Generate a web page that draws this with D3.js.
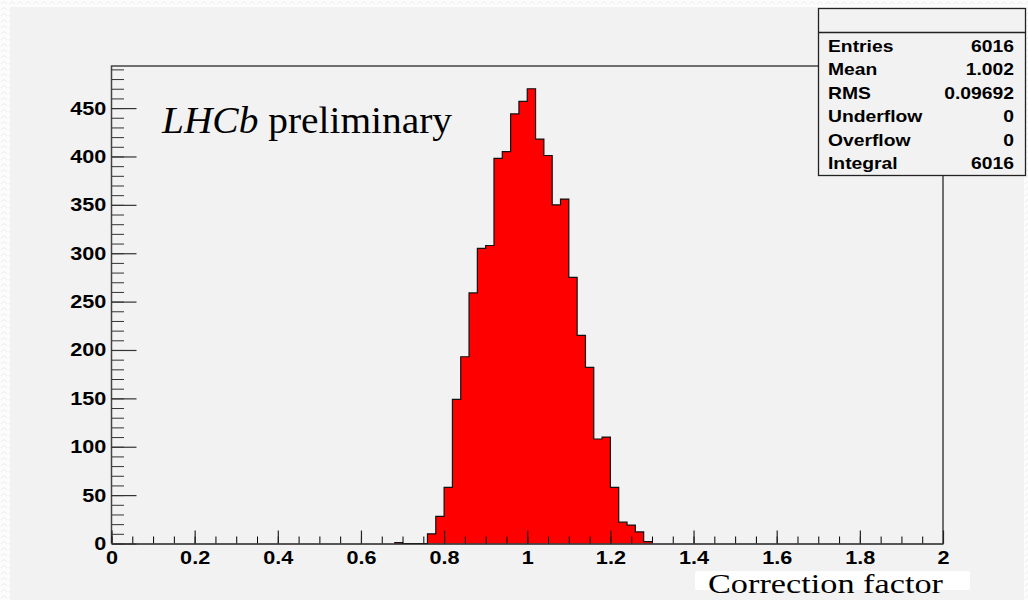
<!DOCTYPE html>
<html>
<head>
<meta charset="utf-8">
<script src="https://cdn.jsdelivr.net/npm/d3@7"></script>
<style>
  html, body { margin: 0; padding: 0; background: #fff; }
  svg { display: block; }
</style>
</head>
<body>
<div id="chart"></div>
<script>
// histogram of the correction factor, bin width 0.02 on [0, 2]
const binLow = [0.68, 0.70, 0.72, 0.74, 0.76, 0.78, 0.80, 0.82, 0.84, 0.86, 0.88, 0.90, 0.92, 0.94, 0.96,
                0.98, 1.00, 1.02, 1.04, 1.06, 1.08, 1.10, 1.12, 1.14, 1.16, 1.18, 1.20, 1.22, 1.24, 1.26, 1.28];
const binCount = [1, 0, 0, 0, 10, 28, 58, 149, 193, 259, 305, 308, 398, 405, 444,
                  457, 470, 418, 401, 350, 356, 275, 215, 182, 108, 110, 58, 22, 19, 12, 2];
const binWidth = 0.02;

const xMajor = [0, 0.2, 0.4, 0.6, 0.8, 1, 1.2, 1.4, 1.6, 1.8, 2];
const yMajor = [0, 50, 100, 150, 200, 250, 300, 350, 400, 450];

const statNames = ["Entries", "Mean", "RMS", "Underflow", "Overflow", "Integral"];
const statValues = ["6016", "1.002", "0.09692", "0", "0", "6016"];

const width = 1028;
const height = 600;
const frame = {left: 111.5, top: 66, right: 943, bottom: 543.5};
const stretch = 1.17; // the original picture is a little wider than tall

const svg = d3.select('#chart').append('svg')
    .attr('width', width)
    .attr('height', height);

// faint textured border of the slide
const defs = svg.append('defs');
const pat = defs.append('pattern')
    .attr('id', 'tex').attr('width', 8).attr('height', 6)
    .attr('patternUnits', 'userSpaceOnUse');
pat.append('rect').attr('width', 8).attr('height', 6).attr('fill', '#fcfcfc');
pat.append('path').attr('d', 'M1,4 L4,1.5 L7,4').attr('fill', 'none')
    .attr('stroke', '#ececec').attr('stroke-width', 1);

svg.append('rect').attr('width', width).attr('height', height).attr('fill', 'url(#tex)');
svg.append('rect')
    .attr('x', 10).attr('y', 7)
    .attr('width', 1014).attr('height', height - 7)
    .attr('fill', '#f2f2f2');

const x = d3.scaleLinear().domain([0, 2]).range([frame.left, frame.right]);
const y = d3.scaleLinear().domain([0, 470 * 1.05]).range([frame.bottom, frame.top]);

// histogram: step outline and red fill
const pts = [];
binLow.forEach((lo, i) => {
    pts.push([lo, binCount[i]]);
    pts.push([lo + binWidth, binCount[i]]);
});

const area = d3.area()
    .x(d => x(d[0]))
    .y0(y(0))
    .y1(d => y(d[1]));

const line = d3.line()
    .x(d => x(d[0]))
    .y(d => y(d[1]));

svg.append('path')
    .datum(pts)
    .attr('fill', '#ff0000')
    .attr('d', area);

svg.append('path')
    .datum(pts)
    .attr('fill', 'none')
    .attr('stroke', '#111')
    .attr('stroke-width', 1.2)
    .attr('d', line);

// frame
svg.append('path')
    .attr('d', `M${frame.left},${frame.bottom}V${frame.top}H${frame.right}V${frame.bottom}`)
    .attr('fill', 'none')
    .attr('stroke', '#444')
    .attr('stroke-width', 1.5);

const labelStyle = g => g.selectAll('text')
    .attr('font-family', '"Liberation Sans", Arial, sans-serif')
    .attr('font-weight', 'bold')
    .attr('font-size', '18.5px')
    .attr('fill', '#000')
    .attr('transform', `scale(${stretch},1)`);

// x axis
const xMinor = d3.range(0, 41).map(i => i * 0.05);
svg.append('g')
    .attr('transform', `translate(0,${frame.bottom})`)
    .call(d3.axisBottom(x).tickValues(xMinor).tickSize(-7).tickFormat(''))
    .call(g => g.select('.domain').remove());

svg.append('g')
    .attr('transform', `translate(0,${frame.bottom})`)
    .call(d3.axisBottom(x).tickValues(xMajor).tickSize(-13).tickPadding(7.5)
        .tickFormat(d3.format('')).tickSizeOuter(0))
    .call(g => g.select('.domain').attr('stroke', '#222').attr('stroke-width', 1.5))
    .call(g => g.selectAll('.tick line').attr('stroke', '#222').attr('stroke-width', 1.2))
    .call(labelStyle);

// y axis
const yMinor = d3.range(0, 50).map(i => i * 10);
svg.append('g')
    .attr('transform', `translate(${frame.left},0)`)
    .call(d3.axisLeft(y).tickValues(yMinor).tickSize(-12.5).tickFormat(''))
    .call(g => g.select('.domain').remove())
    .call(g => g.selectAll('.tick line').attr('stroke', '#333'));

svg.append('g')
    .attr('transform', `translate(${frame.left},0)`)
    .call(d3.axisLeft(y).tickValues(yMajor).tickSize(-25).tickPadding(4.5).tickSizeOuter(0))
    .call(g => g.select('.domain').remove())
    .call(g => g.selectAll('.tick line').attr('stroke', '#333').attr('stroke-width', 1.2))
    .call(labelStyle);

// LHCb preliminary label
const lab = svg.append('text')
    .attr('x', 162).attr('y', 133)
    .attr('font-family', '"Liberation Serif", "Times New Roman", serif')
    .attr('font-size', '38px')
    .attr('fill', '#000')
    .attr('textLength', 290)
    .attr('lengthAdjust', 'spacingAndGlyphs');
lab.append('tspan').attr('font-style', 'italic').text('LHCb');
lab.append('tspan').text(' preliminary');

// stats box
const box = svg.append('g');
box.append('rect')
    .attr('x', 818.5).attr('y', 8.5)
    .attr('width', 207).attr('height', 167)
    .attr('fill', '#f2f2f2')
    .attr('stroke', '#222')
    .attr('stroke-width', 1.3);
box.append('line')
    .attr('x1', 818.5).attr('x2', 1025.5)
    .attr('y1', 32.5).attr('y2', 32.5)
    .attr('stroke', '#222')
    .attr('stroke-width', 1.3);

const rowY = d3.scaleLinear().domain([0, 5]).range([52, 169]);
const statStyle = s => s
    .attr('font-family', '"Liberation Sans", Arial, sans-serif')
    .attr('font-weight', 'bold')
    .attr('font-size', '16.5px')
    .attr('fill', '#000');

box.selectAll('text.name')
    .data(statNames)
    .join('text')
    .attr('class', 'name')
    .attr('transform', (d, i) => `translate(828,${rowY(i)}) scale(${stretch},1)`)
    .call(statStyle)
    .text(d => d);
box.selectAll('text.val')
    .data(statValues)
    .join('text')
    .attr('class', 'val')
    .attr('transform', (d, i) => `translate(1014,${rowY(i)}) scale(${stretch},1)`)
    .attr('text-anchor', 'end')
    .call(statStyle)
    .text(d => d);

// axis title on a white strip
svg.append('rect')
    .attr('x', 695).attr('y', 571)
    .attr('width', 275).attr('height', 19)
    .attr('rx', 2)
    .attr('fill', '#fff');
svg.append('text')
    .attr('x', 708).attr('y', 592.5)
    .attr('font-family', '"Liberation Serif", "Times New Roman", serif')
    .attr('font-size', '28px')
    .attr('fill', '#000')
    .attr('textLength', 235)
    .attr('lengthAdjust', 'spacingAndGlyphs')
    .text('Correction factor');
</script>
</body>
</html>
